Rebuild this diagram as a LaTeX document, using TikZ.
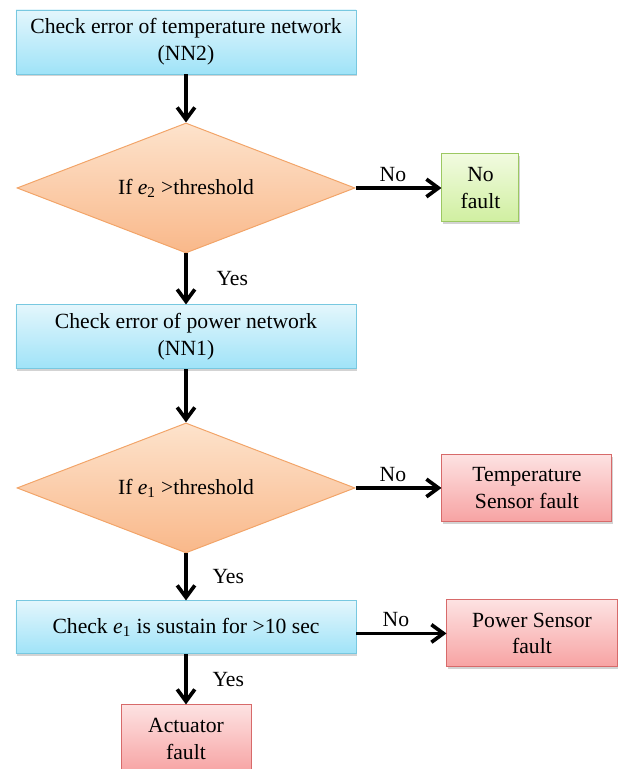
\documentclass[tikz,border=0pt]{standalone}
\usepackage{fontspec}
\setmainfont{Liberation Serif}
\usetikzlibrary{positioning,arrows.meta,shapes.geometric,shadows}

\definecolor{procTop}{HTML}{E3F6FC}
\definecolor{procBot}{HTML}{9FE3F8}
\definecolor{procLine}{HTML}{78C8E0}
\definecolor{decTop}{HTML}{FDE3CC}
\definecolor{decBot}{HTML}{F9B88A}
\definecolor{decLine}{HTML}{F2A468}
\definecolor{okTop}{HTML}{F1FBE0}
\definecolor{okBot}{HTML}{D0EFA0}
\definecolor{okLine}{HTML}{9CC862}
\definecolor{badTop}{HTML}{FDE2E2}
\definecolor{badBot}{HTML}{F7A3A3}
\definecolor{badLine}{HTML}{D76A6A}

\newcommand{\esub}[1]{\textit{e}\textsubscript{#1}}

\begin{document}
\begin{tikzpicture}[
    font=\fontsize{15.4}{19}\selectfont,
    shade/.style={drop shadow={shadow xshift=0.6pt, shadow yshift=-1.6pt, opacity=0.35}},
    proc/.style={draw=procLine, line width=0.7pt, top color=procTop, bottom color=procBot,
      shade, align=center, minimum width=8.5cm, minimum height=1.6cm},
    dec/.style={diamond, aspect=2.6, draw=decLine, line width=0.7pt, top color=decTop, bottom color=decBot,
      align=center, minimum width=8.45cm, minimum height=3.25cm, inner sep=0pt},
    okbox/.style={draw=okLine, line width=0.7pt, top color=okTop, bottom color=okBot,
      shade, align=center, minimum width=1.925cm, minimum height=1.7cm},
    bad/.style={draw=badLine, line width=0.7pt, top color=badTop, bottom color=badBot,
      shade, align=center, minimum width=4.25cm, minimum height=1.675cm},
    arr/.style={-{Straight Barb[length=3mm, width=4.4mm]}, line width=2.6pt}
  ]
    \useasboundingbox (0,0) rectangle (15.525,-19.225);

    % temperature branch
    \node[proc] (c2) at (4.65,-1.05) {Check error of temperature network\\(NN2)};
    \node[dec, below=1.2cm of c2] (d2) {If \esub{2} >threshold};
    \node[okbox, right=2.15cm of d2] (nf) {No\\fault};

    % power branch
    \node[proc, below=1.275cm of d2] (c1) {Check error of power network\\(NN1)};
    \node[dec, below=1.325cm of c1] (d1) {If \esub{1} >threshold};
    \node[bad, right=2.15cm of d1] (ts) {Temperature\\Sensor fault};

    % sustain check
    \node[proc, minimum height=1.325cm, below=1.175cm of d1] (sus) {Check \esub{1} is sustain for >10 sec};
    \node[bad, right=2.25cm of sus, yshift=-0.15cm] (ps) {Power Sensor\\fault};
    \node[bad, minimum width=3.25cm, minimum height=1.7cm, below=1.25cm of sus] (act) {Actuator\\fault};

    \draw[arr] (c2) -- (d2);
    \draw[arr] (d2) -- node[above, xshift=-4pt] {No} (nf);
    \draw[arr] (d2) -- node[right=0.6cm] {Yes} (c1);
    \draw[arr] (c1) -- (d1);
    \draw[arr] (d1) -- node[above, xshift=-4pt] {No} (ts);
    \draw[arr] (d1) -- node[right=0.5cm] {Yes} (sus);
    \draw[arr] (sus.east |- ps.west) -- node[above, xshift=-4pt] {No} (ps);
    \draw[arr] (sus) -- node[right=0.5cm] {Yes} (act);
  \end{tikzpicture}
\end{document}
